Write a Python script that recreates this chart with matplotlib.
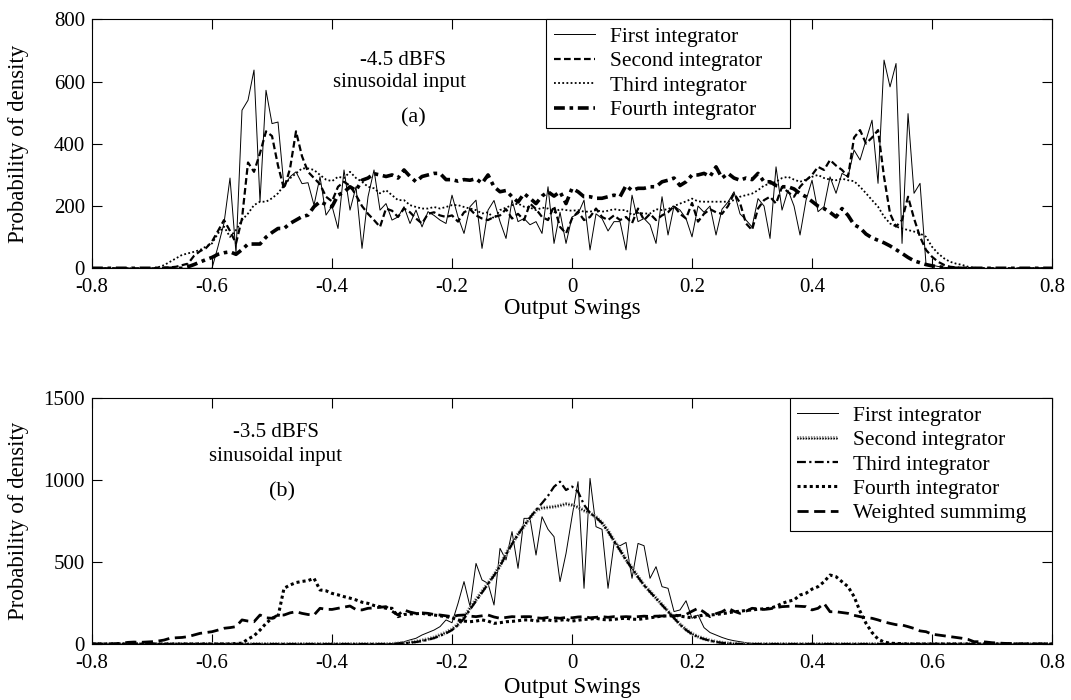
"""Probability density of integrator output swings for two input levels."""
import matplotlib

matplotlib.use("Agg")
import matplotlib.pyplot as plt
import matplotlib.patheffects as pe
import numpy as np

plt.rcParams["font.family"] = ["Liberation Serif", "DejaVu Serif"]
plt.rcParams["axes.unicode_minus"] = False

# histogram bins, step 0.01 from -0.8 to 0.8
swing = np.round(np.linspace(-0.8, 0.8, 161), 2)
tick_pos = [-0.8, -0.6, -0.4, -0.2, 0.0, 0.2, 0.4, 0.6, 0.8]
tick_txt = ["-0.8", "-0.6", "-0.4", "-0.2", "0", "0.2", "0.4", "0.6", "0.8"]

# (a) -4.5 dBFS sinusoidal input
a_first = [
    0, 0, 0, 0, 0, 0, 0, 0, 0, 0,
    0, 0, 0, 0, 0, 0, 0, 0, 0, 0,
    0, 70, 145, 290, 48, 508, 540, 637, 214, 572,
    465, 470, 262, 294, 310, 272, 275, 203, 294, 171,
    200, 128, 316, 187, 262, 64, 230, 316, 187, 208,
    155, 165, 198, 144, 187, 133, 182, 170, 155, 144,
    235, 165, 112, 198, 219, 64, 187, 218, 150, 96,
    219, 150, 160, 140, 150, 112, 262, 80, 180, 80,
    165, 175, 219, 59, 175, 160, 120, 150, 150, 59,
    235, 150, 160, 140, 80, 230, 107, 200, 187, 160,
    101, 200, 180, 200, 107, 190, 213, 246, 175, 155,
    133, 224, 200, 96, 326, 187, 251, 200, 107, 219,
    283, 182, 198, 294, 241, 305, 294, 380, 348, 412,
    476, 273, 669, 583, 658, 80, 497, 241, 273, 12,
    10, 6, 3, 2, 2, 1, 0, 0, 0, 0,
    0, 0, 0, 0, 0, 0, 0, 0, 0, 0,
    0,
]
a_second = [
    0, 0, 0, 0, 0, 0, 0, 0, 0, 0,
    0, 0, 2, 3, 5, 10, 15, 40, 55, 65,
    86, 120, 155, 120, 80, 160, 340, 310, 370, 440,
    425, 330, 255, 320, 440, 360, 310, 290, 270, 230,
    215, 262, 278, 265, 235, 200, 175, 155, 133, 192,
    185, 165, 192, 180, 160, 144, 175, 180, 170, 165,
    170, 150, 180, 190, 170, 160, 155, 165, 170, 190,
    160, 175, 155, 208, 190, 165, 155, 200, 133, 112,
    160, 182, 155, 165, 192, 165, 155, 170, 155, 165,
    145, 192, 155, 175, 155, 170, 180, 200, 175, 160,
    210, 150, 175, 190, 180, 175, 200, 241, 210, 144,
    123, 192, 219, 230, 208, 262, 245, 230, 262, 283,
    300, 326, 316, 348, 330, 316, 294, 420, 444, 401,
    420, 444, 294, 176, 134, 155, 230, 160, 101, 59,
    37, 21, 11, 5, 3, 2, 1, 0, 0, 0,
    0, 0, 0, 0, 0, 0, 0, 0, 0, 0,
    0,
]
a_third = [
    0, 0, 0, 0, 0, 0, 0, 0, 0, 0,
    0, 3, 10, 21, 32, 43, 48, 53, 59, 70,
    80, 112, 134, 101, 123, 155, 176, 203, 214, 214,
    225, 241, 267, 289, 305, 321, 321, 316, 300, 285,
    280, 294, 290, 310, 290, 278, 262, 257, 241, 251,
    235, 219, 219, 203, 197, 192, 192, 197, 192, 197,
    203, 203, 197, 192, 187, 176, 180, 160, 187, 195,
    203, 208, 198, 195, 187, 195, 192, 180, 190, 187,
    185, 187, 182, 182, 187, 182, 185, 190, 187, 187,
    171, 178, 176, 176, 190, 187, 190, 200, 208, 215,
    224, 215, 214, 214, 214, 214, 214, 219, 230, 235,
    240, 251, 266, 272, 278, 290, 294, 285, 278, 285,
    294, 300, 290, 285, 283, 288, 283, 280, 262, 241,
    219, 198, 166, 144, 134, 128, 123, 118, 112, 101,
    69, 48, 32, 21, 15, 11, 5, 2, 0, 0,
    0, 0, 0, 0, 0, 0, 0, 0, 0, 0,
    0,
]
a_fourth = [
    0, 0, 0, 0, 0, 0, 0, 0, 0, 0,
    0, 0, 0, 0, 0, 0, 5, 12, 20, 28,
    35, 45, 50, 53, 45, 60, 78, 78, 78, 100,
    115, 128, 128, 144, 155, 166, 171, 198, 214, 205,
    198, 235, 245, 262, 250, 283, 290, 304, 300, 295,
    300, 290, 316, 295, 278, 295, 300, 305, 305, 285,
    285, 280, 285, 283, 288, 273, 300, 262, 246, 250,
    230, 213, 240, 225, 208, 232, 246, 232, 246, 208,
    257, 246, 230, 230, 225, 225, 230, 235, 230, 266,
    250, 257, 257, 262, 262, 278, 283, 290, 266, 278,
    300, 300, 305, 295, 326, 290, 305, 290, 283, 290,
    285, 305, 278, 278, 266, 262, 262, 255, 240, 230,
    215, 200, 192, 180, 165, 192, 170, 140, 130, 110,
    98, 90, 82, 72, 60, 48, 35, 24, 18, 12,
    8, 5, 3, 1, 0, 0, 0, 0, 0, 0,
    0, 0, 0, 0, 0, 0, 0, 0, 0, 0,
    0,
]

# (b) -3.5 dBFS sinusoidal input
b_first = [
    0, 0, 0, 0, 0, 0, 0, 0, 0, 0,
    0, 0, 0, 0, 0, 0, 0, 0, 0, 0,
    0, 0, 0, 0, 0, 0, 0, 0, 0, 0,
    0, 0, 0, 0, 0, 0, 0, 0, 0, 0,
    0, 0, 0, 0, 0, 0, 0, 0, 0, 0,
    3, 8, 14, 25, 35, 55, 70, 85, 106, 147,
    130, 248, 381, 229, 492, 391, 370, 238, 584, 513,
    686, 462, 767, 767, 543, 777, 700, 655, 381, 553,
    777, 991, 340, 1011, 716, 700, 340, 614, 600, 620,
    401, 614, 600, 401, 472, 350, 340, 198, 208, 264,
    157, 177, 100, 70, 55, 40, 28, 20, 14, 8,
    4, 0, 0, 0, 0, 0, 0, 0, 0, 0,
    0, 0, 0, 0, 0, 0, 0, 0, 0, 0,
    0, 0, 0, 0, 0, 0, 0, 0, 0, 0,
    0, 0, 0, 0, 0, 0, 0, 0, 0, 0,
    0, 0, 0, 0, 0, 0, 0, 0, 0, 0,
    0,
]
b_second = [
    0, 0, 0, 0, 0, 0, 0, 0, 0, 0,
    0, 0, 0, 0, 0, 0, 0, 0, 0, 0,
    0, 0, 0, 0, 0, 0, 0, 0, 0, 0,
    0, 0, 0, 0, 0, 0, 0, 0, 0, 0,
    0, 0, 0, 0, 0, 0, 0, 0, 0, 0,
    0, 3, 6, 10, 15, 22, 30, 40, 55, 70,
    90, 120, 160, 220, 270, 320, 370, 420, 480, 550,
    614, 670, 720, 770, 815, 830, 834, 838, 845, 855,
    848, 835, 815, 800, 775, 740, 690, 630, 575, 515,
    464, 410, 360, 320, 280, 240, 200, 160, 120, 88,
    62, 45, 32, 22, 14, 8, 4, 2, 0, 0,
    0, 0, 0, 0, 0, 0, 0, 0, 0, 0,
    0, 0, 0, 0, 0, 0, 0, 0, 0, 0,
    0, 0, 0, 0, 0, 0, 0, 0, 0, 0,
    0, 0, 0, 0, 0, 0, 0, 0, 0, 0,
    0, 0, 0, 0, 0, 0, 0, 0, 0, 0,
    0,
]
b_third = [
    0, 0, 0, 0, 0, 0, 0, 0, 0, 0,
    0, 0, 0, 0, 0, 0, 0, 0, 0, 0,
    0, 0, 0, 0, 0, 0, 0, 0, 0, 0,
    0, 0, 0, 0, 0, 0, 0, 0, 0, 0,
    0, 0, 0, 0, 0, 0, 0, 0, 0, 0,
    0, 2, 5, 8, 12, 18, 26, 36, 50, 65,
    85, 115, 155, 210, 262, 315, 365, 418, 475, 545,
    610, 668, 722, 772, 818, 860, 905, 960, 991, 940,
    961, 930, 850, 800, 772, 738, 688, 628, 572, 512,
    460, 408, 358, 318, 278, 238, 198, 158, 118, 86,
    60, 43, 30, 20, 12, 7, 4, 2, 0, 0,
    0, 0, 0, 0, 0, 0, 0, 0, 0, 0,
    0, 0, 0, 0, 0, 0, 0, 0, 0, 0,
    0, 0, 0, 0, 0, 0, 0, 0, 0, 0,
    0, 0, 0, 0, 0, 0, 0, 0, 0, 0,
    0, 0, 0, 0, 0, 0, 0, 0, 0, 0,
    0,
]
b_fourth = [
    0, 0, 0, 0, 0, 0, 0, 0, 0, 0,
    0, 0, 0, 0, 0, 0, 0, 0, 0, 0,
    0, 0, 0, 0, 3, 5, 30, 50, 85, 126,
    157, 167, 340, 360, 375, 382, 387, 401, 330, 325,
    309, 300, 289, 280, 269, 255, 248, 235, 228, 218,
    218, 167, 180, 183, 185, 187, 180, 177, 172, 167,
    160, 147, 140, 136, 140, 147, 140, 126, 130, 136,
    138, 142, 147, 147, 140, 145, 147, 140, 145, 150,
    140, 145, 150, 152, 157, 150, 147, 150, 155, 157,
    152, 150, 155, 160, 165, 171, 171, 177, 170, 165,
    160, 170, 177, 177, 180, 185, 190, 197, 200, 205,
    208, 212, 215, 218, 230, 248, 260, 269, 299, 310,
    335, 350, 380, 421, 411, 380, 350, 290, 200, 126,
    70, 30, 12, 5, 3, 2, 0, 0, 0, 0,
    0, 0, 0, 0, 0, 0, 0, 0, 0, 0,
    0, 0, 0, 0, 0, 0, 0, 0, 0, 0,
    0,
]
b_weighted = [
    0, 0, 0, 0, 2, 5, 10, 12, 10, 12,
    14, 18, 24, 35, 38, 40, 45, 55, 65, 70,
    75, 85, 96, 100, 106, 147, 140, 136, 177, 160,
    157, 177, 177, 190, 197, 187, 180, 177, 218, 212,
    211, 218, 225, 232, 210, 208, 218, 220, 224, 228,
    200, 177, 208, 195, 187, 190, 187, 180, 177, 172,
    167, 175, 177, 170, 167, 172, 177, 165, 157, 162,
    167, 165, 167, 167, 160, 157, 162, 160, 157, 162,
    160, 165, 167, 160, 163, 167, 163, 167, 165, 167,
    165, 167, 170, 168, 170, 171, 171, 172, 175, 180,
    200, 218, 195, 167, 185, 197, 218, 200, 187, 200,
    218, 215, 211, 215, 222, 228, 230, 232, 230, 228,
    208, 218, 248, 197, 197, 192, 187, 175, 167, 160,
    157, 147, 135, 126, 118, 116, 106, 95, 80, 75,
    60, 55, 50, 45, 40, 35, 28, 14, 14, 12,
    8, 6, 4, 3, 2, 0, 0, 0, 0, 0,
    0,
]

FS = 15
LABEL_FS = 16.5

fig = plt.figure(figsize=(10.71, 7.0), dpi=100)
ax_a = fig.add_axes([0.0859, 0.6167, 0.8964, 0.3557])
ax_b = fig.add_axes([0.0859, 0.0800, 0.8964, 0.3510])

ax_a.plot(swing, a_first, color="black", lw=0.7, label="First integrator")
ax_a.plot(swing, a_second, color="black", lw=1.6, dashes=(3, 1.5), label="Second integrator")
ax_a.plot(swing, a_third, color="black", lw=1.3, dashes=(1, 1.3), label="Third integrator")
ax_a.plot(swing, a_fourth, color="black", lw=2.6, dashes=(3, 1.3, 1, 1.3), label="Fourth integrator")

textured = [pe.Stroke(linewidth=2.8, foreground="0.55"), pe.Normal()]
ax_b.plot(swing, b_first, color="black", lw=0.7, label="First integrator")
ax_b.plot(swing, b_second, color="black", lw=1.0, dashes=(1, 1),
          path_effects=textured, label="Second integrator")
ax_b.plot(swing, b_third, color="black", lw=1.6, dashes=(4, 1.5, 1, 1.5), label="Third integrator")
ax_b.plot(swing, b_fourth, color="black", lw=2.2, dashes=(1, 1), label="Fourth integrator")
ax_b.plot(swing, b_weighted, color="black", lw=2.0, dashes=(4, 2), label="Weighted summimg")

for ax, ymax, yticks, xpad in ((ax_a, 800, [0, 200, 400, 600, 800], 1),
                               (ax_b, 1500, [0, 500, 1000, 1500], 3)):
    ax.set_xlim(-0.8, 0.8)
    ax.set_ylim(0, ymax)
    ax.set_xticks(tick_pos)
    ax.set_xticklabels(tick_txt)
    ax.set_yticks(yticks)
    ax.tick_params(direction="in", top=True, right=True, length=7, width=0.8,
                   labelsize=FS)
    ax.tick_params(axis="x", pad=7)
    ax.tick_params(axis="y", pad=5)
    ax.set_xlabel("Output Swings", fontsize=LABEL_FS, labelpad=xpad)
    ax.set_ylabel("Probability of density", fontsize=LABEL_FS)
    ax.yaxis.set_label_coords(-0.066, 0.5)
    for s in ax.spines.values():
        s.set_linewidth(0.8)

ax_a.text(-0.282, 669, "-4.5 dBFS", ha="center", va="center", fontsize=FS)
ax_a.text(-0.287, 598, "sinusoidal input", ha="center", va="center", fontsize=FS)
ax_a.text(-0.265, 482, "(a)", ha="center", va="center", fontsize=FS + 1)

ax_b.text(-0.493, 1294, "-3.5 dBFS", ha="center", va="center", fontsize=FS)
ax_b.text(-0.495, 1142, "sinusoidal input", ha="center", va="center", fontsize=FS)
ax_b.text(-0.484, 928, "(b)", ha="center", va="center", fontsize=FS + 1)

leg_kw = dict(fontsize=15.5, frameon=True, fancybox=False, edgecolor="black",
              framealpha=1, handlelength=1.9, handletextpad=0.7,
              labelspacing=0.2, borderpad=0.35, borderaxespad=0, mode="expand")
leg_a = ax_a.legend(loc="upper left", bbox_to_anchor=(0.473, 0.0, 0.254, 1.0), **leg_kw)
leg_b = ax_b.legend(loc="upper right", bbox_to_anchor=(0.727, 0.0, 0.273, 1.0), **leg_kw)
for leg in (leg_a, leg_b):
    leg.get_frame().set_linewidth(0.8)

fig.savefig("out.png", dpi=100)
plt.close(fig)
